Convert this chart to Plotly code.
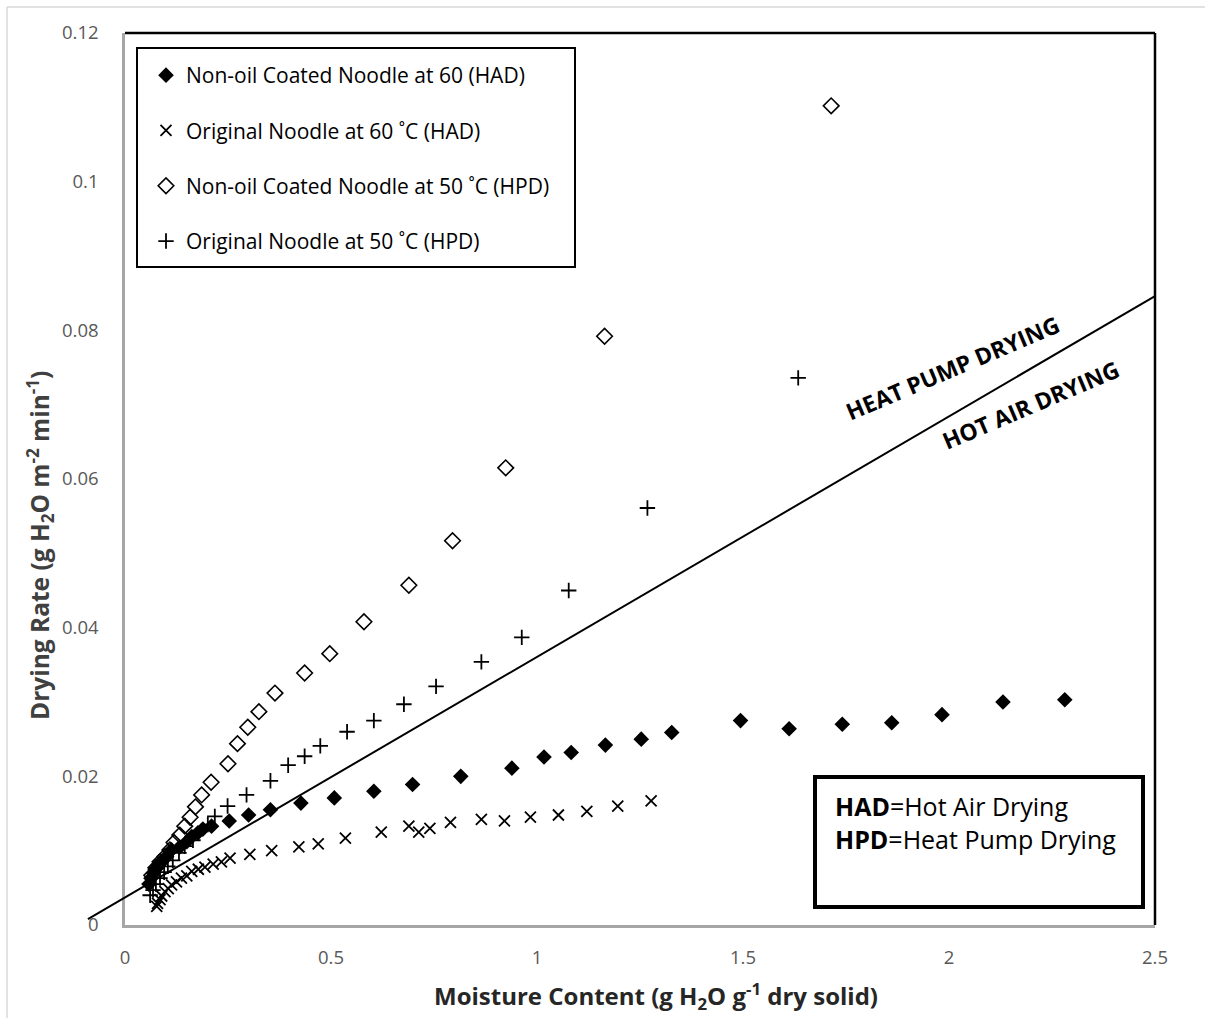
import plotly.graph_objects as go

# ---- data: moisture content (g H2O / g dry solid) vs drying rate (g H2O m^-2 min^-1)
had_coated_mc = [0.058, 0.063, 0.069, 0.073, 0.081, 0.089, 0.101, 0.113, 0.133, 0.150,
                 0.162, 0.177, 0.189, 0.210, 0.253, 0.300, 0.353, 0.427, 0.508, 0.604,
                 0.698, 0.815, 0.939, 1.017, 1.083, 1.166, 1.253, 1.327, 1.494, 1.612,
                 1.741, 1.861, 1.983, 2.131, 2.281]
had_coated_rate = [0.0055, 0.0063, 0.0070, 0.0075, 0.0081, 0.0085, 0.0092, 0.0101, 0.0105, 0.0112,
                   0.0119, 0.0124, 0.0129, 0.0133, 0.0140, 0.0148, 0.0155, 0.0164, 0.0171, 0.0180,
                   0.0189, 0.0200, 0.0211, 0.0226, 0.0232, 0.0242, 0.0250, 0.0259, 0.0275, 0.0264,
                   0.0270, 0.0272, 0.0283, 0.0300, 0.0303]

had_original_mc = [0.077, 0.079, 0.085, 0.089, 0.097, 0.105, 0.113, 0.125, 0.137, 0.150,
                   0.162, 0.178, 0.194, 0.214, 0.234, 0.255, 0.303, 0.356, 0.422, 0.469,
                   0.535, 0.622, 0.689, 0.713, 0.740, 0.790, 0.865, 0.921, 0.984, 1.052,
                   1.121, 1.196, 1.277]
had_original_rate = [0.0025, 0.0029, 0.0034, 0.0039, 0.0045, 0.0049, 0.0054, 0.0058, 0.0063, 0.0066,
                     0.0072, 0.0075, 0.0078, 0.0082, 0.0085, 0.0090, 0.0095, 0.0100, 0.0105, 0.0109,
                     0.0117, 0.0125, 0.0133, 0.0125, 0.0130, 0.0138, 0.0142, 0.0140, 0.0145, 0.0148,
                     0.0153, 0.0160, 0.0167]

hpd_coated_mc = [0.065, 0.075, 0.085, 0.097, 0.109, 0.119, 0.133, 0.145, 0.158, 0.171,
                 0.186, 0.209, 0.250, 0.273, 0.298, 0.325, 0.364, 0.436, 0.497, 0.580,
                 0.689, 0.795, 0.924, 1.164, 1.714]
hpd_coated_rate = [0.0067, 0.0077, 0.0085, 0.0092, 0.0101, 0.0111, 0.0121, 0.0133, 0.0145, 0.0159,
                   0.0175, 0.0192, 0.0217, 0.0244, 0.0266, 0.0287, 0.0312, 0.0339, 0.0365, 0.0408,
                   0.0457, 0.0517, 0.0615, 0.0792, 0.1102]

hpd_original_mc = [0.061, 0.068, 0.075, 0.085, 0.095, 0.104, 0.116, 0.131, 0.145, 0.165,
                   0.201, 0.218, 0.249, 0.295, 0.353, 0.396, 0.436, 0.474, 0.539, 0.604,
                   0.677, 0.755, 0.865, 0.963, 1.077, 1.268, 1.634]
hpd_original_rate = [0.0040, 0.0047, 0.0055, 0.0063, 0.0071, 0.0079, 0.0087, 0.0097, 0.0106, 0.0114,
                     0.0135, 0.0146, 0.0160, 0.0175, 0.0194, 0.0215, 0.0227, 0.0241, 0.0260, 0.0275,
                     0.0297, 0.0321, 0.0354, 0.0387, 0.0450, 0.0561, 0.0736]

# boundary line separating the heat-pump and hot-air drying regions
boundary_mc = [-0.09, 2.5]
boundary_rate = [0.0008, 0.0846]

series_names = [
    "Non-oil Coated Noodle at 60 (HAD)",
    "Original Noodle at 60 ˚C (HAD)",
    "Non-oil Coated Noodle at 50 ˚C (HPD)",
    "Original Noodle at 50 ˚C (HPD)",
]

x_range = [0, 2.5]
y_range = [0, 0.12]

W, H = 1205, 1018
ML, MR, MT, MB = 125, 50, 33, 93
PW, PH = W - ML - MR, H - MT - MB

FONT = "Open Sans"


def px_x(px):
    return (px - ML) / PW


def px_y(py):
    return (H - MB - py) / PH


def data_x(v):
    return (v - x_range[0]) / (x_range[1] - x_range[0])


def data_y(v):
    return (v - y_range[0]) / (y_range[1] - y_range[0])


fig = go.Figure()

marker_styles = [
    dict(symbol="diamond", size=12, color="black"),
    dict(symbol="x-thin", size=11, color="black", line=dict(color="black", width=1.8)),
    dict(symbol="diamond-open", size=12, color="black", line=dict(color="black", width=1.6)),
    dict(symbol="cross-thin", size=11, color="black", line=dict(color="black", width=1.8)),
]
xs = [had_coated_mc, had_original_mc, hpd_coated_mc, hpd_original_mc]
ys = [had_coated_rate, had_original_rate, hpd_coated_rate, hpd_original_rate]

for i, (name, x, y, mk) in enumerate(zip(series_names, xs, ys, marker_styles)):
    fig.add_trace(go.Scatter(
        x=x, y=y, mode="markers", name=name, marker=mk,
        legendgroup=f"g{i}", cliponaxis=False,
    ))

shapes = []
# boundary line (extends past the y axis, so drawn in paper units)
shapes.append(dict(type="line", xref="paper", yref="paper",
                   x0=data_x(boundary_mc[0]), y0=data_y(boundary_rate[0]),
                   x1=data_x(boundary_mc[1]), y1=data_y(boundary_rate[1]),
                   line=dict(color="black", width=2)))
# top and right plot borders
shapes.append(dict(type="line", xref="paper", yref="paper", x0=0, y0=1, x1=1, y1=1,
                   line=dict(color="black", width=2.5)))
shapes.append(dict(type="line", xref="paper", yref="paper", x0=1, y0=0, x1=1, y1=1,
                   line=dict(color="black", width=2.5)))
# legend frame
shapes.append(dict(type="rect", xref="paper", yref="paper",
                   x0=px_x(137), y0=px_y(267), x1=px_x(575), y1=px_y(48),
                   line=dict(color="black", width=2)))
# abbreviation box
shapes.append(dict(type="rect", xref="paper", yref="paper",
                   x0=px_x(815), y0=px_y(907), x1=px_x(1143), y1=px_y(777),
                   line=dict(color="black", width=4)))
# outer chart frame
shapes.append(dict(type="line", xref="paper", yref="paper",
                   x0=px_x(7), y0=px_y(7), x1=px_x(1210), y1=px_y(7),
                   line=dict(color="#d9d9d9", width=1.5)))
shapes.append(dict(type="line", xref="paper", yref="paper",
                   x0=px_x(7), y0=px_y(7), x1=px_x(7), y1=px_y(1020),
                   line=dict(color="#d9d9d9", width=1.5)))

annotations = [
    dict(text="<b>Moisture Content (g H<sub>2</sub>O g<sup>-1</sup> dry solid)</b>",
         xref="paper", yref="paper", x=px_x(656), y=px_y(996),
         xanchor="center", yanchor="middle", showarrow=False,
         font=dict(family=FONT, size=24, color="#262626")),
    dict(text="<b>Drying Rate (g H<sub>2</sub>O m<sup>-2</sup> min<sup>-1</sup>)</b>",
         xref="paper", yref="paper", x=px_x(40), y=px_y(546),
         xanchor="center", yanchor="middle", showarrow=False, textangle=-90,
         font=dict(family=FONT, size=24.5, color="#404040")),
    dict(text="<b>HEAT PUMP DRYING</b>", xref="paper", yref="paper",
         x=px_x(952), y=px_y(368), xanchor="center", yanchor="middle",
         showarrow=False, textangle=-23,
         font=dict(family=FONT, size=23, color="black")),
    dict(text="<b>HOT AIR DRYING</b>", xref="paper", yref="paper",
         x=px_x(1030), y=px_y(405), xanchor="center", yanchor="middle",
         showarrow=False, textangle=-23,
         font=dict(family=FONT, size=23, color="black")),
    dict(text="<b>HAD</b>=Hot Air Drying<br><b>HPD</b>=Heat Pump Drying",
         xref="paper", yref="paper", x=px_x(833), y=px_y(787),
         xanchor="left", yanchor="top", align="left", showarrow=False,
         font=dict(family=FONT, size=25, color="black")),
]

fig.update_layout(
    width=W, height=H,
    margin=dict(l=ML, r=MR, t=MT, b=MB),
    paper_bgcolor="white", plot_bgcolor="white",
    font=dict(family=FONT, color="black"),
    shapes=shapes, annotations=annotations,
    showlegend=True,
    legend=dict(x=px_x(146), y=px_y(55), xanchor="left", yanchor="top",
                bgcolor="rgba(0,0,0,0)", borderwidth=0,
                font=dict(family=FONT, size=21, color="black"),
                tracegroupgap=25, traceorder="grouped",
                itemwidth=30),
    xaxis=dict(range=x_range, dtick=0.5, showgrid=False, zeroline=False,
               showline=True, linecolor="#a6a6a6", linewidth=2.5, ticks="",
               ticklabelstandoff=14,
               tickfont=dict(family=FONT, size=18.5, color="#595959")),
    yaxis=dict(range=y_range, dtick=0.02, showgrid=False, zeroline=False,
               showline=True, linecolor="#a6a6a6", linewidth=2.5, ticks="",
               ticklabelstandoff=20,
               tickfont=dict(family=FONT, size=18.5, color="#595959")),
)

fig.write_html("out.html")
